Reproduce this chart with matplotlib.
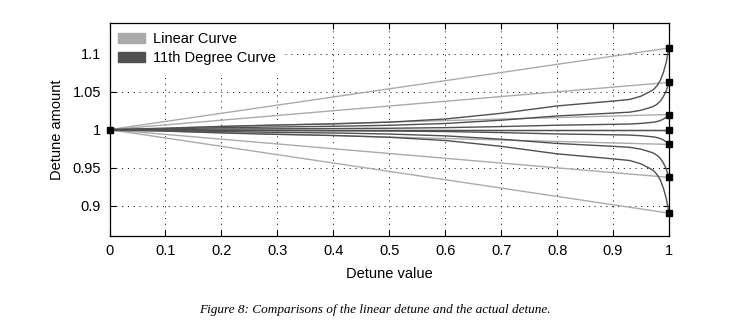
import numpy as np
import matplotlib
matplotlib.use('Agg')
import matplotlib.pyplot as plt
from matplotlib.patches import Patch

###Data

#Detune value samples for the 11th degree curves
det_x = [0, 0.1, 0.2, 0.3, 0.4, 0.5, 0.6, 0.7, 0.8, 0.85, 0.9, 0.93, 0.95, 0.97, 0.975, 0.98, 0.985, 0.99, 0.995, 1.0]

#11th degree curves (top to bottom)
curve_a = [1.0, 1.0018, 1.0043, 1.0061, 1.0075, 1.0099, 1.0140, 1.0215, 1.0312, 1.0344, 1.0376, 1.0398, 1.0441, 1.0516, 1.0548, 1.0591, 1.0656, 1.0753, 1.0882, 1.1075]
curve_b = [1.0, 1.0011, 1.0025, 1.0035, 1.0044, 1.0057, 1.0081, 1.0124, 1.0180, 1.0199, 1.0218, 1.0230, 1.0255, 1.0299, 1.0317, 1.0342, 1.0379, 1.0435, 1.0510, 1.0622]
curve_c = [1.0, 1.0003, 1.0008, 1.0011, 1.0014, 1.0018, 1.0026, 1.0040, 1.0058, 1.0064, 1.0070, 1.0074, 1.0082, 1.0096, 1.0101, 1.0109, 1.0121, 1.0139, 1.0163, 1.0199]
curve_m = [1.0, 1.0, 1.0, 1.0, 1.0, 1.0, 1.0, 1.0, 1.0, 1.0, 1.0, 1.0, 1.0, 1.0, 1.0, 1.0, 1.0, 1.0, 1.0, 1.0]
curve_d = [1.0, 0.9997, 0.9992, 0.9989, 0.9986, 0.9982, 0.9975, 0.9961, 0.9943, 0.9938, 0.9932, 0.9928, 0.9920, 0.9906, 0.9901, 0.9893, 0.9881, 0.9863, 0.9840, 0.9805]
curve_e = [1.0, 0.9989, 0.9975, 0.9964, 0.9956, 0.9942, 0.9918, 0.9874, 0.9818, 0.9799, 0.9780, 0.9767, 0.9742, 0.9698, 0.9679, 0.9654, 0.9616, 0.9560, 0.9484, 0.9371]
curve_f = [1.0, 0.9981, 0.9956, 0.9937, 0.9923, 0.9899, 0.9857, 0.9780, 0.9681, 0.9648, 0.9615, 0.9593, 0.9549, 0.9472, 0.9439, 0.9395, 0.9329, 0.9230, 0.9098, 0.8900]

#Linear curves: start and end points
lin_x = [0, 1]
lin_start = 1.0
lin_end = [1.1075, 1.0622, 1.0199, 1.0, 0.9805, 0.9371, 0.8900]

x_ticks = [0, 0.1, 0.2, 0.3, 0.4, 0.5, 0.6, 0.7, 0.8, 0.9, 1]
x_ticklabels = ['0', '0.1', '0.2', '0.3', '0.4', '0.5', '0.6', '0.7', '0.8', '0.9', '1']
y_ticks = [0.9, 0.95, 1.0, 1.05, 1.1]
y_ticklabels = ['0.9', '0.95', '1', '1.05', '1.1']

legend_names = ['Linear Curve', '11th Degree Curve']
caption = 'Figure 8: Comparisons of the linear detune and the actual detune.'

###Figure

plt.rcParams['font.family'] = ['Liberation Sans', 'DejaVu Sans']

col_lin = '#AAAAAA'
col_deg = '#505050'

fig = plt.figure(figsize=(7.4, 3.29), dpi=100)
ax1 = fig.add_axes([0.148, 0.283, 0.756, 0.646])

#Linear curves
for e in lin_end:
    ax1.plot(lin_x, [lin_start, e], color=col_lin, linewidth=1.0, zorder=2)

#11th degree curves
for c in [curve_a, curve_b, curve_c, curve_m, curve_d, curve_e, curve_f]:
    ax1.plot(det_x, c, color=col_deg, linewidth=1.0, zorder=3)

#End markers
ax1.plot([0], [lin_start], 's', color='black', markersize=4.5, zorder=5, clip_on=False)
ax1.plot([1]*len(lin_end), lin_end, 's', color='black', markersize=4.5, zorder=5, clip_on=False)

#Axis settings
ax1.set_xlim(0, 1)
ax1.set_ylim(0.86, 1.14)
ax1.set_xticks(x_ticks)
ax1.set_xticklabels(x_ticklabels)
ax1.set_yticks(y_ticks)
ax1.set_yticklabels(y_ticklabels)
ax1.tick_params(direction='in', length=4, width=0.8, top=True, right=True, labelsize=10.5, pad=6)
ax1.grid(True, linestyle=(0, (1, 5)), color='black', linewidth=0.7)
for s in ax1.spines.values():
    s.set_linewidth(0.9)
    s.set_zorder(12)
ax1.set_xlabel('Detune value', fontsize=10.5, labelpad=6)
ax1.set_ylabel('Detune amount', fontsize=10.5, labelpad=6)

#Legend
handles = [Patch(facecolor=col_lin, edgecolor=col_lin), Patch(facecolor=col_deg, edgecolor=col_deg)]
leg = ax1.legend(handles, legend_names, loc='upper left', fontsize=10.5, frameon=True,
                 borderaxespad=0.05, handlelength=1.8, handleheight=0.7, handletextpad=0.6,
                 labelspacing=0.35, borderpad=0.55, fancybox=False)
leg.get_frame().set_edgecolor('white')
leg.get_frame().set_facecolor('white')
leg.get_frame().set_alpha(1.0)
leg.set_zorder(10)

#Caption
fig.text(0.507, 0.058, caption, ha='center', va='center', fontsize=9.5,
         family='Liberation Serif', style='italic')

plt.savefig('out.png', dpi=100)
